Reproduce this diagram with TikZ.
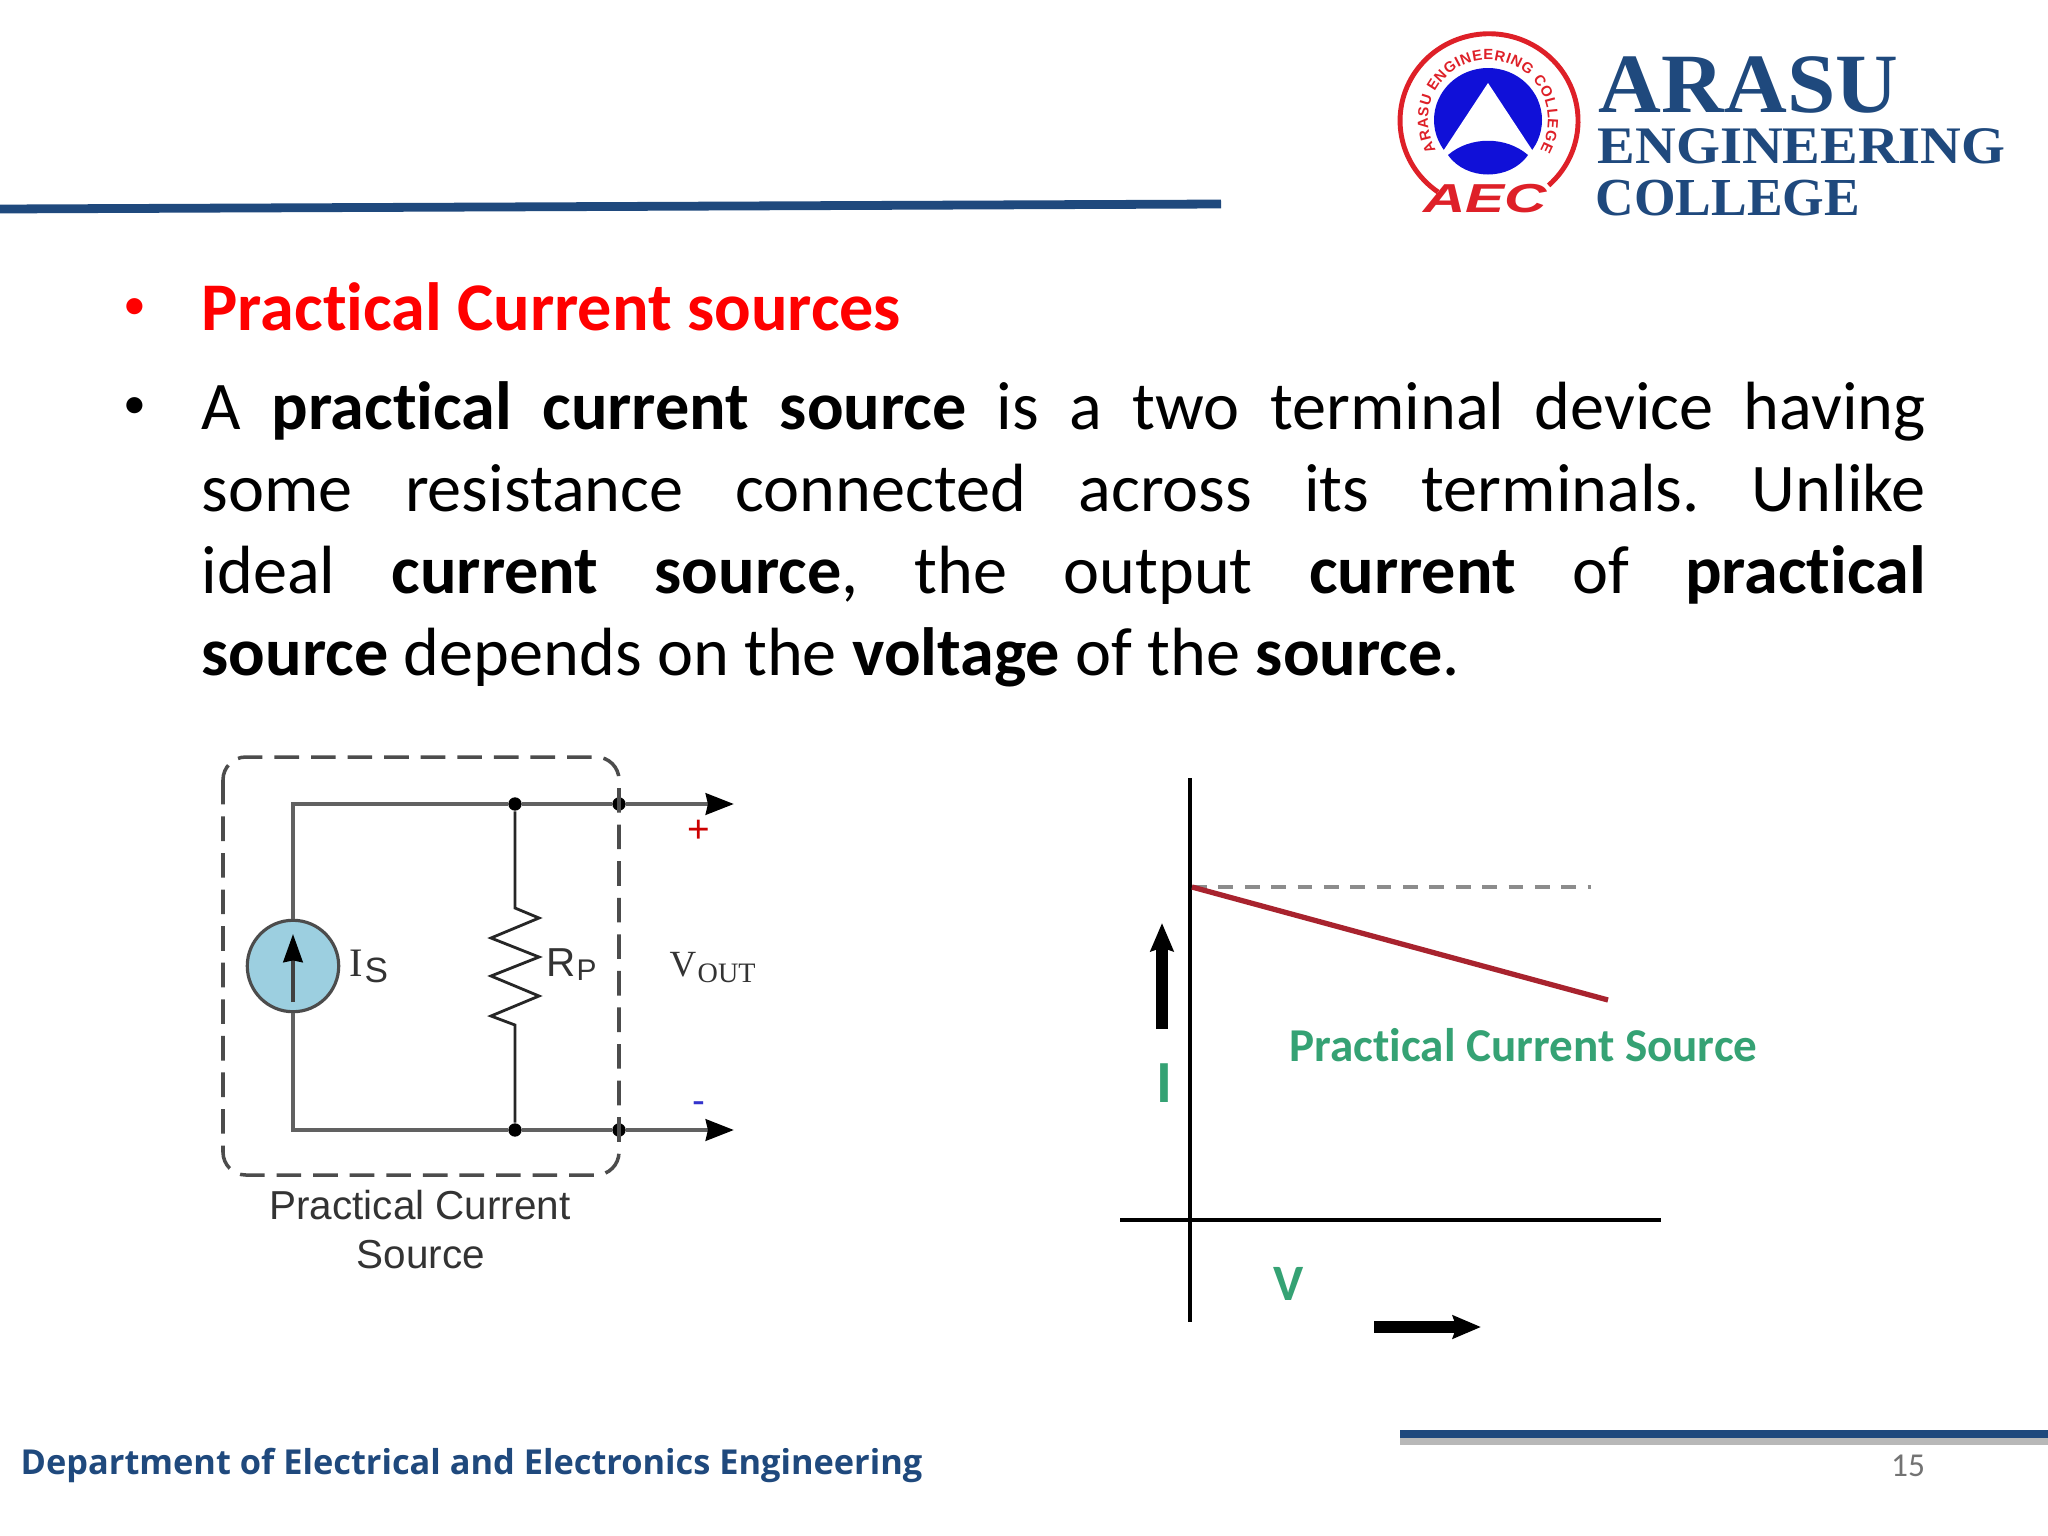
\documentclass[tikz,border=0pt]{standalone}
\usepackage{fontspec}
\setmainfont{Carlito}[Ligatures=NoCommon]
\newfontfamily\logofont{Liberation Serif}
\newfontfamily\footfont{Open Sans}
\newfontfamily\labelfont{Liberation Sans}
\usetikzlibrary{decorations.text,arrows.meta}
\definecolor{rulecol}{HTML}{1F497D}
\definecolor{logored}{HTML}{DE2028}
\definecolor{logoblue}{HTML}{1010D8}
\definecolor{srcblue}{HTML}{9CCFE0}
\definecolor{plotgreen}{HTML}{35A274}
\definecolor{plotred}{HTML}{A8232E}
\tikzset{
  rulebar/.style={draw=rulecol,line width=2.5pt},
  wire/.style={draw=black!62,line width=1.4pt},
  thinwire/.style={draw=black!85,line width=0.8pt},
  junction/.style={circle,fill=black,inner sep=0pt,minimum size=3.8pt},
  wiretip/.style={-{Stealth[black,inset=0.6pt,length=8pt,width=6pt]}},
  bodytext/.style={font=\fontsize{19.4}{23.3}\selectfont,inner sep=0pt},
  bulletmark/.style={font=\fontsize{13}{15}\selectfont,inner sep=0pt},
  logotext/.style={text=rulecol,anchor=base west,inner sep=0pt},
  circlabel/.style={font=\labelfont\fontsize{11.5}{13}\selectfont,text=black!80,inner sep=0pt},
  greenlabel/.style={font=\bfseries\fontsize{13.4}{15}\selectfont,text=plotgreen,inner sep=0pt},
  fatarrow/.style={-{Stealth[inset=1pt,length=8pt,width=6.5pt]},line width=3.2pt},
}
\begin{document}
\begin{tikzpicture}[x=0.01cm,y=-0.01cm,>=stealth]
\useasboundingbox (0,0) rectangle (2048,1536);
\fill[white] (0,0) rectangle (2048,1536);
\coordinate (ruleA) at (0,209);
\coordinate (ruleB) at (1221,204);
\coordinate (ruleC) at (1400,1434);
\coordinate (ruleD) at (2048,1434);
\draw[black!28,line width=2pt] (ruleC) ++(0,7.5) -- ++(648,0);
\draw[rulebar] (ruleA) -- (ruleB);
\draw[rulebar] (ruleC) -- (ruleD);
\node[inner sep=0pt,anchor=base west,font=\footfont\bfseries\fontsize{9.77}{12}\selectfont,text=rulecol] (dept) at (20,1474) {Department of Electrical and Electronics Engineering};
\node[inner sep=0pt,font=\fontsize{9.5}{11}\selectfont,text=black!55] (pageno) at (1908,1466) {15};
\draw[logored,line width=1.4pt] (1438,192) arc [start angle=125,end angle=408,x radius=89,y radius=87];
\fill[logoblue] (1488,120) ellipse [x radius=54,y radius=52];
\fill[white] (1488,83) -- (1544,168) -- (1432,168) -- cycle;
\fill[logoblue] (1448,155) .. controls (1470,136) and (1506,136) .. (1528,155) .. controls (1510,181) and (1466,181) .. (1448,155) -- cycle;
\path[decorate,decoration={text along path,text align={fit to path},text color=logored,text={|\labelfont\bfseries\fontsize{4.2}{5}\selectfont|ARASU ENGINEERING COLLEGE}}] (1436,150) arc [start angle=150,end angle=390,x radius=60,y radius=60];
\node[inner sep=0pt,font=\labelfont\bfseries\itshape\fontsize{11.5}{13}\selectfont,text=logored,xscale=1.45] (aec) at (1485,199) {AEC};
\node[logotext,font=\logofont\bfseries\fontsize{24}{28}\selectfont,xscale=1.03] (arasu) at (1598,112) {ARASU};
\node[logotext,font=\logofont\bfseries\fontsize{15}{17}\selectfont,xscale=1.07] (engg) at (1597,163) {ENGINEERING};
\node[logotext,font=\logofont\bfseries\fontsize{15.2}{17}\selectfont] (coll) at (1595,215) {COLLEGE};
\node[bulletmark,text=red] (bulA) at (135,309) {•};
\node[bodytext,anchor=base west,text=red,font=\bfseries\fontsize{19.4}{23.3}\selectfont] (head) at (201,330) {Practical Current sources};
\node[bulletmark] (bulB) at (135,408) {•};
\node[bodytext,anchor=north west,text width=17.23cm,align=justify] (para) at (201,381) {\frenchspacing A \textbf{practical current source} is a two terminal device having\linebreak
some resistance connected across its terminals. Unlike\linebreak
ideal \textbf{current source}, the output \textbf{current} of \textbf{practical}\linebreak
\textbf{source} depends on the \textbf{voltage} of the \textbf{source}.};
\coordinate (topL) at (293,804);
\coordinate (botL) at (293,1130);
\node[junction] (topR) at (515,804) {};
\node[junction] (botR) at (515,1130) {};
\node[junction] (topT) at (619,804) {};
\node[junction] (botT) at (619,1130) {};
\coordinate (topE) at (734,804);
\coordinate (botE) at (734,1130);
\draw[black!70,line width=1pt,dash pattern=on 7pt off 3.4pt,rounded corners=6.5pt] (223,757) rectangle (619,1175);
\node[circle,draw=black!70,fill=srcblue,line width=0.9pt,minimum size=26pt,inner sep=0pt] (src) at (293,966) {};
\draw[wire] (src.north) -- (topL) -- (topR);
\draw[wire] (src.south) -- (botL) -- (botR);
\draw[wire] (topR) -- (topT);
\draw[wire] (botR) -- (botT);
\draw[wire,wiretip] (topT) -- (topE);
\draw[wire,wiretip] (botT) -- (botE);
\coordinate (srcA) at (293,1002);
\coordinate (srcB) at (293,934);
\draw[line width=1.1pt,draw=black!75,-{Stealth[black,inset=0.5pt,length=8pt,width=5.5pt]}] (srcA) -- (srcB);
\coordinate (resA) at (515,908);
\coordinate (resB) at (515,1025);
\draw[thinwire] (topR) -- (resA) -- (539,918) -- (491,938) -- (539,957) -- (491,976) -- (539,996) -- (491,1016) -- (resB) -- (botR);
\node[circlabel,font=\logofont\fontsize{11.5}{13}\selectfont,anchor=base west] (is) at (349,976) {I};
\node[circlabel,font=\labelfont\fontsize{10}{12}\selectfont,anchor=base west] (iss) at (364,982) {S};
\node[circlabel,anchor=base west] (rp) at (546,976) {R};
\node[circlabel,font=\labelfont\fontsize{8.5}{10}\selectfont,anchor=base west] (rps) at (576,980) {P};
\node[circlabel,font=\logofont\fontsize{10.5}{12}\selectfont,anchor=base west] (v) at (669,976) {V};
\node[circlabel,font=\logofont\fontsize{8}{10}\selectfont,anchor=base west] (vout) at (697,982) {OUT};
\node[inner sep=0pt,font=\labelfont\fontsize{11}{12}\selectfont,text=red!80!black] (plus) at (699,831) {+};
\node[inner sep=0pt,font=\labelfont\fontsize{11}{12}\selectfont,text=blue!60!gray] (minus) at (699,1108) {-};
\node[circlabel] (capA) at (420,1205) {Practical Current};
\node[circlabel] (capB) at (421,1255) {Source};
\coordinate (vaxA) at (1190,778);
\coordinate (vaxB) at (1190,1322);
\coordinate (haxA) at (1120,1220);
\coordinate (haxB) at (1661,1220);
\coordinate (peak) at (1192,887);
\coordinate (dashE) at (1591,887);
\coordinate (redE) at (1608,1000);
\draw[line width=1pt] (vaxA) -- (vaxB);
\draw[line width=1pt] (haxA) -- (haxB);
\draw[black!45,line width=0.9pt,dash pattern=on 4.2pt off 3.3pt] (peak) -- (dashE);
\draw[draw=plotred,line width=1.5pt] (peak) -- (redE);
\coordinate (upA) at (1162,1029);
\coordinate (upB) at (1162,923);
\coordinate (rtA) at (1374,1327);
\coordinate (rtB) at (1481,1327);
\draw[fatarrow] (upA) -- (upB);
\draw[fatarrow] (rtA) -- (rtB);
\node[greenlabel,font=\bfseries\fontsize{17}{19}\selectfont] (ilabel) at (1164,1083) {I};
\node[greenlabel,anchor=west] (curve) at (1289,1045) {Practical Current Source};
\node[greenlabel,font=\bfseries\fontsize{14.5}{16}\selectfont] (vlabel) at (1289,1284) {V};
\end{tikzpicture}
\end{document}
